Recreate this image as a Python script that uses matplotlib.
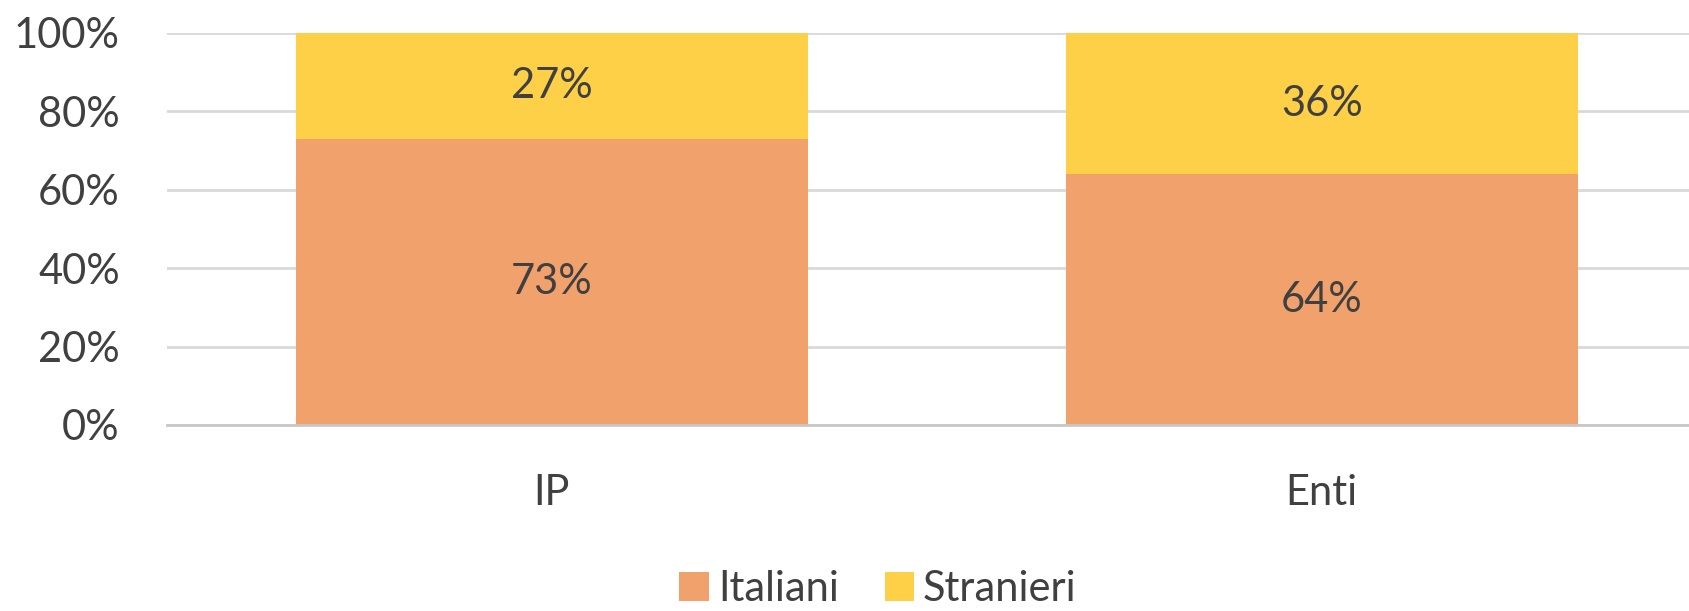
import matplotlib
matplotlib.use("Agg")
import matplotlib.pyplot as plt
from matplotlib.ticker import FuncFormatter

categories = ["IP", "Enti"]
italiani = [73, 64]
stranieri = [27, 36]
series_names = ["Italiani", "Stranieri"]
yticks = [0, 20, 40, 60, 80, 100]

plt.rcParams['font.family'] = ['Lato', 'DejaVu Sans']
FS = 30
TXT = '#404040'
C_IT = '#F1A26C'
C_ST = '#FDD048'

W, H = 1689, 611
fig = plt.figure(figsize=(W / 100, H / 100), dpi=100)
left, right = 167, 1689
top, bottom = 33, 425
ax = fig.add_axes([left / W, 1 - bottom / H, (right - left) / W, (bottom - top) / H])

x = list(range(len(categories)))
bw = 0.665
b1 = ax.bar(x, italiani, width=bw, color=C_IT, label=series_names[0], zorder=2)
b2 = ax.bar(x, stranieri, width=bw, bottom=italiani, color=C_ST, label=series_names[1], zorder=2)

for bars, vals, bots in [(b1, italiani, [0] * len(italiani)), (b2, stranieri, italiani)]:
    for rect, v, b in zip(bars, vals, bots):
        ax.text(rect.get_x() + rect.get_width() / 2, b + v / 2, f"{v}%",
                ha='center', va='center', fontsize=FS, color=TXT, zorder=3)

ax.set_ylim(0, 100)
ax.set_xlim(-0.5, 1.477)
ax.set_yticks(yticks)
ax.yaxis.set_major_formatter(FuncFormatter(lambda v, p: f"{int(v)}%"))
ax.set_xticks(x)
ax.set_xticklabels(categories)
ax.grid(axis='y', color='#D9D9D9', linewidth=2, zorder=1)
ax.set_axisbelow(True)
for s in ['top', 'right', 'left']:
    ax.spines[s].set_visible(False)
ax.spines['bottom'].set_color('#C8C8C8')
ax.spines['bottom'].set_linewidth(2)
ax.tick_params(axis='y', length=0, pad=34, labelsize=FS, labelcolor=TXT)
ax.tick_params(axis='x', length=0, pad=35, labelsize=FS, labelcolor=TXT)

fig.legend(handles=[b1, b2], labels=series_names, loc='center',
           bbox_to_anchor=(878 / W, 1 - 589 / H), ncol=2, frameon=False,
           fontsize=FS, labelcolor=TXT, handlelength=0.7, handleheight=0.7,
           handletextpad=0.22, columnspacing=1.1)

fig.savefig("out.png", dpi=100)
